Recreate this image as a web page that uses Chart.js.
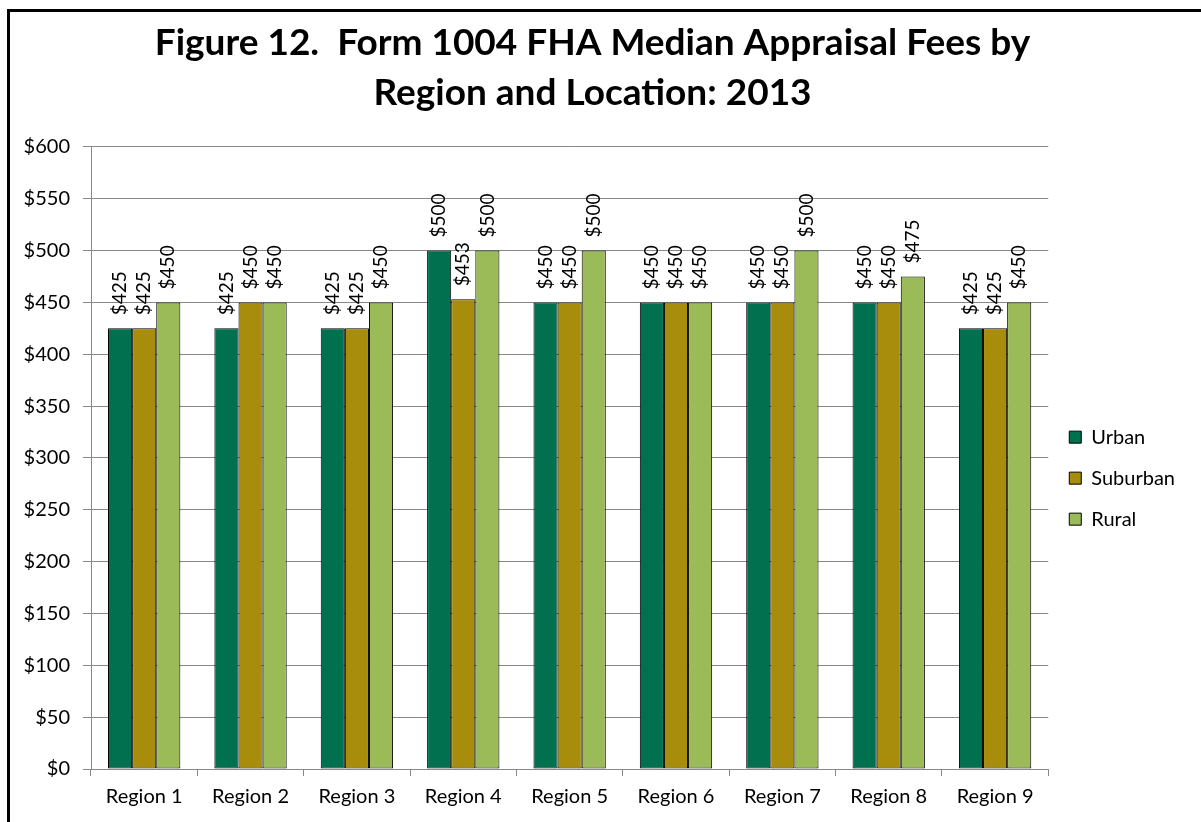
<!DOCTYPE html>
<html>
<head>
<meta charset="utf-8">
<script src="https://cdn.jsdelivr.net/npm/chart.js@4.4.1/dist/chart.umd.min.js"></script>
<style>
  html, body { margin: 0; padding: 0; background: #fff; overflow: hidden; }
  #frame { position: absolute; left: 7px; top: 9px; width: 1300px; height: 900px; border: 3px solid #000; box-sizing: border-box; }
  #c { position: absolute; left: 0; top: 0; }
</style>
</head>
<body>
<div id="frame"></div>
<canvas id="c" width="1201" height="822"></canvas>
<script>
const categories = ['Region 1','Region 2','Region 3','Region 4','Region 5','Region 6','Region 7','Region 8','Region 9'];
const seriesNames = ['Urban','Suburban','Rural'];
const urban    = [425, 425, 425, 500, 450, 450, 450, 450, 425];
const suburban = [425, 450, 425, 453, 450, 450, 450, 450, 425];
const rural    = [450, 450, 450, 500, 500, 450, 500, 475, 450];
const titleLines = ['Figure 12.  Form 1004 FHA Median Appraisal Fees by', 'Region and Location: 2013'];
const yMin = 0, yMax = 600, yStep = 50;

const FONT = 'Lato, "Open Sans", sans-serif';
const colors = ['#00704F', '#A88C0C', '#9BBB59'];

const labelPlugin = {
  id: 'barValueLabels',
  afterDatasetsDraw(chart) {
    const ctx = chart.ctx;
    ctx.save();
    ctx.font = '19px ' + FONT;
    ctx.fillStyle = '#000';
    ctx.textAlign = 'left';
    ctx.textBaseline = 'middle';
    chart.data.datasets.forEach((ds, di) => {
      const meta = chart.getDatasetMeta(di);
      meta.data.forEach((el, i) => {
        ctx.save();
        ctx.translate(el.x, el.y - 13);
        ctx.rotate(-Math.PI / 2);
        ctx.fillText('$' + ds.data[i], 0, 0);
        ctx.restore();
      });
    });
    ctx.restore();
  }
};

new Chart(document.getElementById('c'), {
  type: 'bar',
  data: {
    labels: categories,
    datasets: [
      { label: seriesNames[0], data: urban, backgroundColor: colors[0] },
      { label: seriesNames[1], data: suburban, backgroundColor: colors[1] },
      { label: seriesNames[2], data: rural, backgroundColor: colors[2] }
    ].map(d => Object.assign(d, { borderColor: '#000', borderWidth: 1, borderSkipped: false }))
  },
  options: {
    responsive: false,
    animation: false,
    devicePixelRatio: 1,
    layout: { padding: { left: 0, right: 16, top: 0, bottom: 0 } },
    datasets: { bar: { categoryPercentage: 0.68, barPercentage: 1.0 } },
    plugins: {
      title: {
        display: true,
        text: titleLines,
        color: '#000',
        font: { family: FONT, size: 37, weight: 'bold', lineHeight: 1.35 },
        padding: { top: 18, bottom: 29 }
      },
      legend: {
        position: 'right',
        align: 'center',
        fullSize: false,
        title: { display: true, text: ' ', font: { family: FONT, size: 17 }, padding: 10 },
        labels: {
          color: '#000',
          font: { family: FONT, size: 20 },
          boxWidth: 12,
          boxHeight: 12,
          padding: 21
        }
      },
      tooltip: { enabled: false }
    },
    scales: {
      x: {
        grid: { display: true, drawOnChartArea: false, drawTicks: true, tickLength: 7, color: '#888', offset: true },
        border: { display: true, color: '#888', width: 1 },
        ticks: { color: '#000', font: { family: FONT, size: 20 }, padding: 9, maxRotation: 0 },
        afterFit(scale) { scale.height = 53; }
      },
      y: {
        min: yMin, max: yMax,
        grid: { color: '#888', tickLength: 8, drawTicks: true },
        border: { display: true, color: '#888', width: 1 },
        ticks: { stepSize: yStep, color: '#000', font: { family: FONT, size: 20 }, padding: 13,
                 callback: v => '$' + v },
        afterFit(scale) { scale.width = 91; }
      }
    }
  },
  plugins: [labelPlugin]
});
</script>
</body>
</html>
